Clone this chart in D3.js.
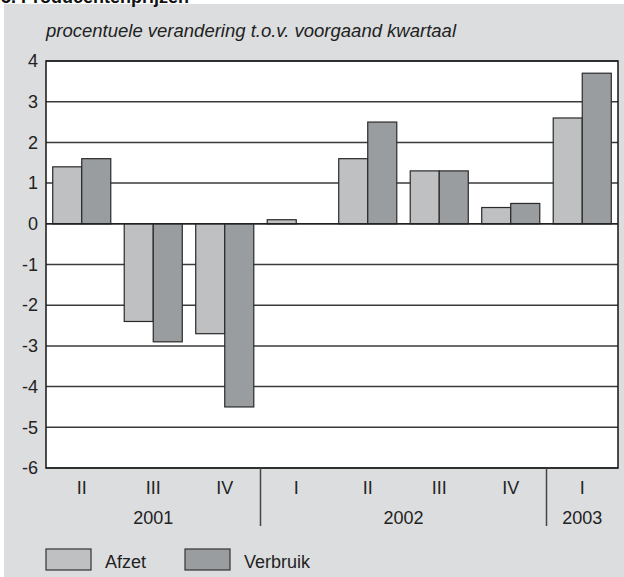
<!DOCTYPE html>
<html lang="nl">
<head>
<meta charset="UTF-8">
<title>Producentenprijzen</title>
<script src="https://d3js.org/d3.v7.min.js"></script>
<style>
  body { margin: 0; background: #fff; }
  svg { display: block; font-family: "Liberation Sans", Arial, sans-serif; }
  .tick-label { font-size: 18px; fill: #222; }
  .grid { stroke: #3a3a3a; stroke-width: 1.5; }
</style>
</head>
<body>
<svg width="624" height="577"></svg>
<script>
// data
const quarters = ['2001-II', '2001-III', '2001-IV', '2002-I', '2002-II', '2002-III', '2002-IV', '2003-I'];
const quarterLabels = ['II', 'III', 'IV', 'I', 'II', 'III', 'IV', 'I'];
const years = ['2001', '2002', '2003'];
const yearQuarterCount = [3, 4, 1];
const series = ['Afzet', 'Verbruik'];
const afzet = [1.4, -2.4, -2.7, 0.1, 1.6, 1.3, 0.4, 2.6];
const verbruik = [1.6, -2.9, -4.5, 0.0, 2.5, 1.3, 0.5, 3.7];
const yTicks = [-6, -5, -4, -3, -2, -1, 0, 1, 2, 3, 4];

const colors = { Afzet: '#bfc0c2', Verbruik: '#9a9da0' };

const svg = d3.select('svg');

// gray panel
svg.append('rect')
  .attr('x', 4).attr('y', 4)
  .attr('width', 620).attr('height', 573)
  .attr('fill', '#dcdddf');

// title, cut off at the top as in the source
svg.append('text')
  .attr('x', 1).attr('y', 3)
  .attr('font-size', 18).attr('font-weight', 'bold')
  .attr('fill', '#111')
  .text('5. Producentenprijzen');

svg.append('text')
  .attr('x', 46).attr('y', 37)
  .attr('font-size', 18.5).attr('font-style', 'italic')
  .attr('fill', '#222')
  .text('procentuele verandering t.o.v. voorgaand kwartaal');

const plot = { left: 46, right: 618, top: 61, bottom: 468 };

const x = d3.scaleBand()
  .domain(quarters)
  .range([plot.left, plot.right]);

const bw = x.bandwidth();
const inner = d3.scaleBand()
  .domain(series)
  .range([bw * 0.094, bw * 0.906]);

const y = d3.scaleLinear()
  .domain([-6, 4])
  .range([plot.bottom, plot.top]);

// plot background
svg.append('rect')
  .attr('x', plot.left).attr('y', plot.top)
  .attr('width', plot.right - plot.left).attr('height', plot.bottom - plot.top)
  .attr('fill', '#fff');

// gridlines
svg.append('g')
  .selectAll('line')
  .data(yTicks)
  .join('line')
  .attr('class', 'grid')
  .attr('x1', plot.left).attr('x2', plot.right)
  .attr('y1', d => y(d)).attr('y2', d => y(d));

// y axis labels (plain hyphen for negatives)
const yAxis = svg.append('g')
  .attr('transform', `translate(${plot.left - 8},0)`)
  .call(d3.axisLeft(y).tickValues(yTicks).tickSize(0).tickPadding(0).tickFormat(d => String(d)));
yAxis.select('.domain').remove();
yAxis.selectAll('text')
  .attr('class', 'tick-label')
  .style('font-size', '18px')
  .style('font-family', '"Liberation Sans", Arial, sans-serif')
  .attr('fill', '#222');

// bars
const rows = quarters.map((q, i) => ({ q, values: [afzet[i], verbruik[i]] }));
const groups = svg.append('g')
  .selectAll('g')
  .data(rows)
  .join('g')
  .attr('transform', d => `translate(${x(d.q)},0)`);

groups.selectAll('rect')
  .data(d => series.map((s, j) => ({ s, v: d.values[j] })).filter(d => d.v !== 0))
  .join('rect')
  .attr('x', d => inner(d.s))
  .attr('width', inner.bandwidth())
  .attr('y', d => y(Math.max(0, d.v)))
  .attr('height', d => Math.abs(y(d.v) - y(0)))
  .attr('fill', d => colors[d.s])
  .attr('stroke', '#2a2a2a')
  .attr('stroke-width', 1.2);

// zero line and frame
svg.append('line')
  .attr('x1', plot.left).attr('x2', plot.right)
  .attr('y1', y(0)).attr('y2', y(0))
  .attr('stroke', '#222').attr('stroke-width', 1.5);

svg.append('rect')
  .attr('x', plot.left).attr('y', plot.top)
  .attr('width', plot.right - plot.left).attr('height', plot.bottom - plot.top)
  .attr('fill', 'none')
  .attr('stroke', '#222').attr('stroke-width', 1.6);

// quarter labels
svg.append('g')
  .selectAll('text')
  .data(quarters)
  .join('text')
  .attr('class', 'tick-label')
  .attr('x', d => x(d) + bw / 2)
  .attr('y', 494)
  .attr('text-anchor', 'middle')
  .text((d, i) => quarterLabels[i]);

// year labels and dividers
let start = 0;
const yearSpans = years.map((yr, i) => {
  const span = { yr, from: quarters[start], to: quarters[start + yearQuarterCount[i] - 1] };
  start += yearQuarterCount[i];
  return span;
});

svg.append('g')
  .selectAll('text')
  .data(yearSpans)
  .join('text')
  .attr('class', 'tick-label')
  .attr('x', d => (x(d.from) + x(d.to) + bw) / 2)
  .attr('y', 524)
  .attr('text-anchor', 'middle')
  .text(d => d.yr);

svg.append('g')
  .selectAll('line')
  .data(yearSpans.slice(1))
  .join('line')
  .attr('x1', d => x(d.from)).attr('x2', d => x(d.from))
  .attr('y1', plot.bottom).attr('y2', 526)
  .attr('stroke', '#444').attr('stroke-width', 1.5);

// legend
const legend = svg.append('g')
  .selectAll('g')
  .data(series)
  .join('g')
  .attr('transform', (d, i) => `translate(${46 + i * 139},549)`);

legend.append('rect')
  .attr('width', 45).attr('height', 21)
  .attr('fill', d => colors[d])
  .attr('stroke', '#333').attr('stroke-width', 1.2);

legend.append('text')
  .attr('class', 'tick-label')
  .attr('x', 59).attr('y', 19)
  .text(d => d);
</script>
</body>
</html>
